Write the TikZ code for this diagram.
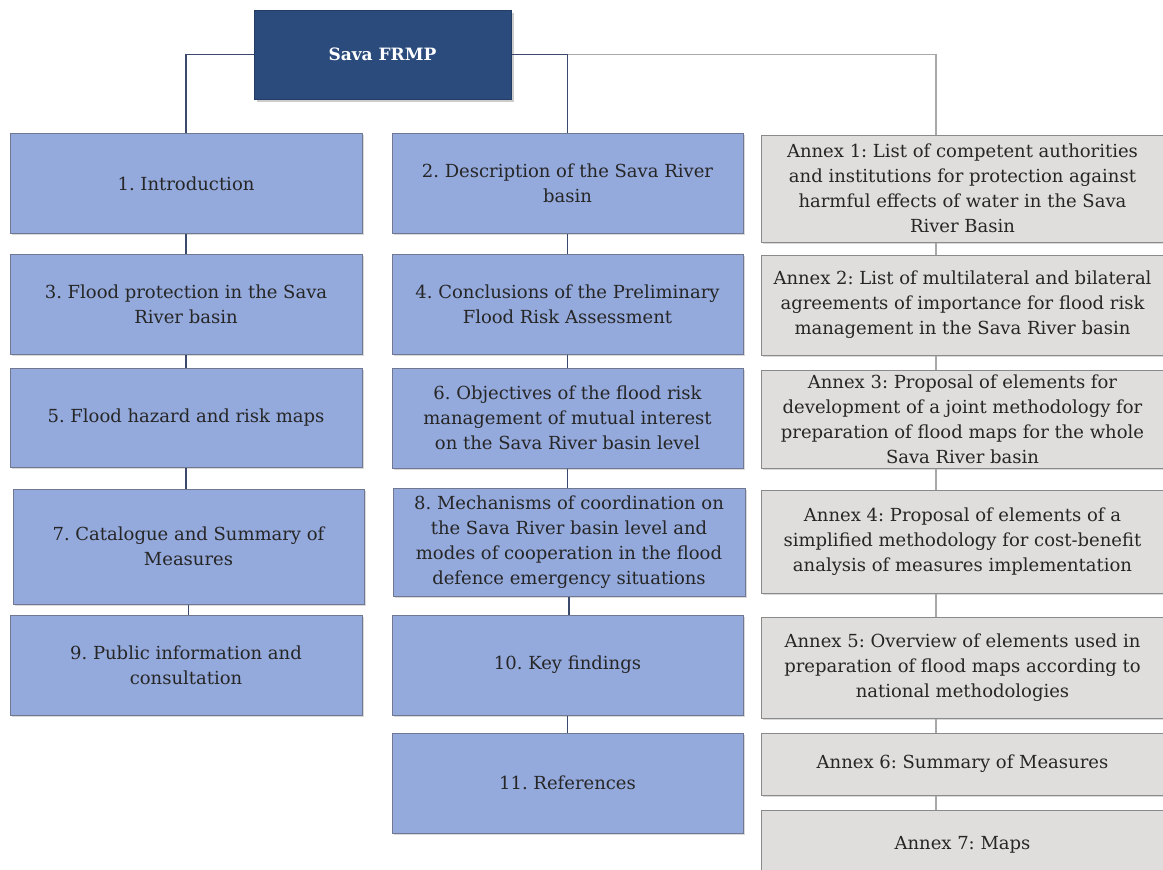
\documentclass[tikz,border=0pt]{standalone}
\usepackage{fontspec}
\setmainfont{DejaVu Serif}
\usetikzlibrary{shadows}
\definecolor{titleblue}{HTML}{2C4B7D}
\definecolor{chapblue}{HTML}{94A9DC}
\definecolor{chapedge}{HTML}{6F7890}
\definecolor{annexgray}{HTML}{E0DEDC}
\definecolor{annexedge}{HTML}{8A8A8A}
\definecolor{linkdark}{HTML}{3B4A6C}
\definecolor{linkgray}{HTML}{A8A8A8}
\begin{document}
\begin{tikzpicture}[x=1pt,y=-1pt,
  every node/.style={align=center,text=black!85,line width=1pt,
    font=\fontsize{18}{25}\selectfont\frenchspacing},
  boxshadow/.style={drop shadow={shadow xshift=1.5pt,shadow yshift=-1.5pt,opacity=.3}},
  frmp/.style={fill=titleblue,draw=titleblue!80!black,text=white,
    minimum width=257pt,minimum height=89pt,
    drop shadow={shadow xshift=2.5pt,shadow yshift=-2.5pt,opacity=.4},
    font=\fontsize{17}{20}\selectfont\bfseries},
  chap/.style={draw=chapedge,fill=chapblue,minimum width=352pt,
    minimum height=100pt,boxshadow},
  annex/.style={draw=annexedge,fill=annexgray,minimum width=403pt,
    minimum height=100pt,boxshadow},
  link/.style={draw=linkdark,line width=1.2pt},
  annexlink/.style={draw=linkgray,line width=1.2pt}]
\useasboundingbox (0,0) rectangle (1163,870);
\node[frmp] (frmp) at (382.5,54.5) {Sava FRMP};
% chapters, left column
\node[chap] (c1) at (186,183.5) {1. Introduction};
\node[chap] (c3) at (186,304) {3. Flood protection in the Sava\\River basin};
\node[chap,minimum height=99pt] (c5) at (186,417.5) {5. Flood hazard and risk maps};
\node[chap,minimum width=351pt,minimum height=115pt] (c7) at (188.5,546.5) {7. Catalogue and Summary of\\Measures};
\node[chap] (c9) at (186,665) {9. Public information and\\consultation};
% chapters, middle column
\node[chap,minimum width=351pt] (c2) at (567.5,183.5) {2. Description of the Sava River\\basin};
\node[chap,minimum width=351pt] (c4) at (567.5,304) {4. Conclusions of the Preliminary\\Flood Risk Assessment};
\node[chap,minimum width=351pt] (c6) at (567.5,418) {6. Objectives of the flood risk\\management of mutual interest\\on the Sava River basin level};
\node[chap,minimum height=108pt] (c8) at (569,542) {8. Mechanisms of coordination on\\the Sava River basin level and\\modes of cooperation in the flood\\defence emergency situations};
\node[chap,minimum width=351pt] (c10) at (567.5,665) {10. Key findings};
\node[chap,minimum width=351pt] (c11) at (567.5,783) {11. References};
% annexes
\node[annex,minimum height=107pt] (a1) at (962.5,188.5) {Annex 1: List of competent authorities\\and institutions for protection against\\harmful effects of water in the Sava\\River Basin};
\node[annex] (a2) at (962.5,305) {Annex 2: List of multilateral and bilateral\\agreements of importance for flood risk\\management in the Sava River basin};
\node[annex,minimum height=98pt] (a3) at (962.5,419) {Annex 3: Proposal of elements for\\development of a joint methodology for\\preparation of flood maps for the whole\\Sava River basin};
\node[annex,minimum height=103pt] (a4) at (962.5,541.5) {Annex 4: Proposal of elements of a\\simplified methodology for cost-benefit\\analysis of measures implementation};
\node[annex,minimum height=101pt] (a5) at (962.5,667.5) {Annex 5: Overview of elements used in\\preparation of flood maps according to\\national methodologies};
\node[annex,minimum height=62pt] (a6) at (962.5,764) {Annex 6: Summary of Measures};
\node[annex,minimum height=70pt] (a7) at (962.5,845) {Annex 7: Maps};
% connectors
\coordinate (spine) at (936,54.5);
\draw[link] (frmp.west) -| (c1.north);
\draw[link] (frmp.east) -| (c2.north);
\draw[annexlink] (frmp.east -| c2.north) -- (spine) -- (a1.north -| spine);
\foreach \u/\v in {c1/c3,c3/c5,c5/c7,c7/c9,c2/c4,c4/c6,c6/c8,c8/c10,c10/c11}
  \draw[link] (\u.south) -- (\u.south |- \v.north);
\foreach \u/\v in {a1/a2,a2/a3,a3/a4,a4/a5,a5/a6,a6/a7}
  \draw[annexlink] (\u.south -| spine) -- (\v.north -| spine);
\end{tikzpicture}
\end{document}
